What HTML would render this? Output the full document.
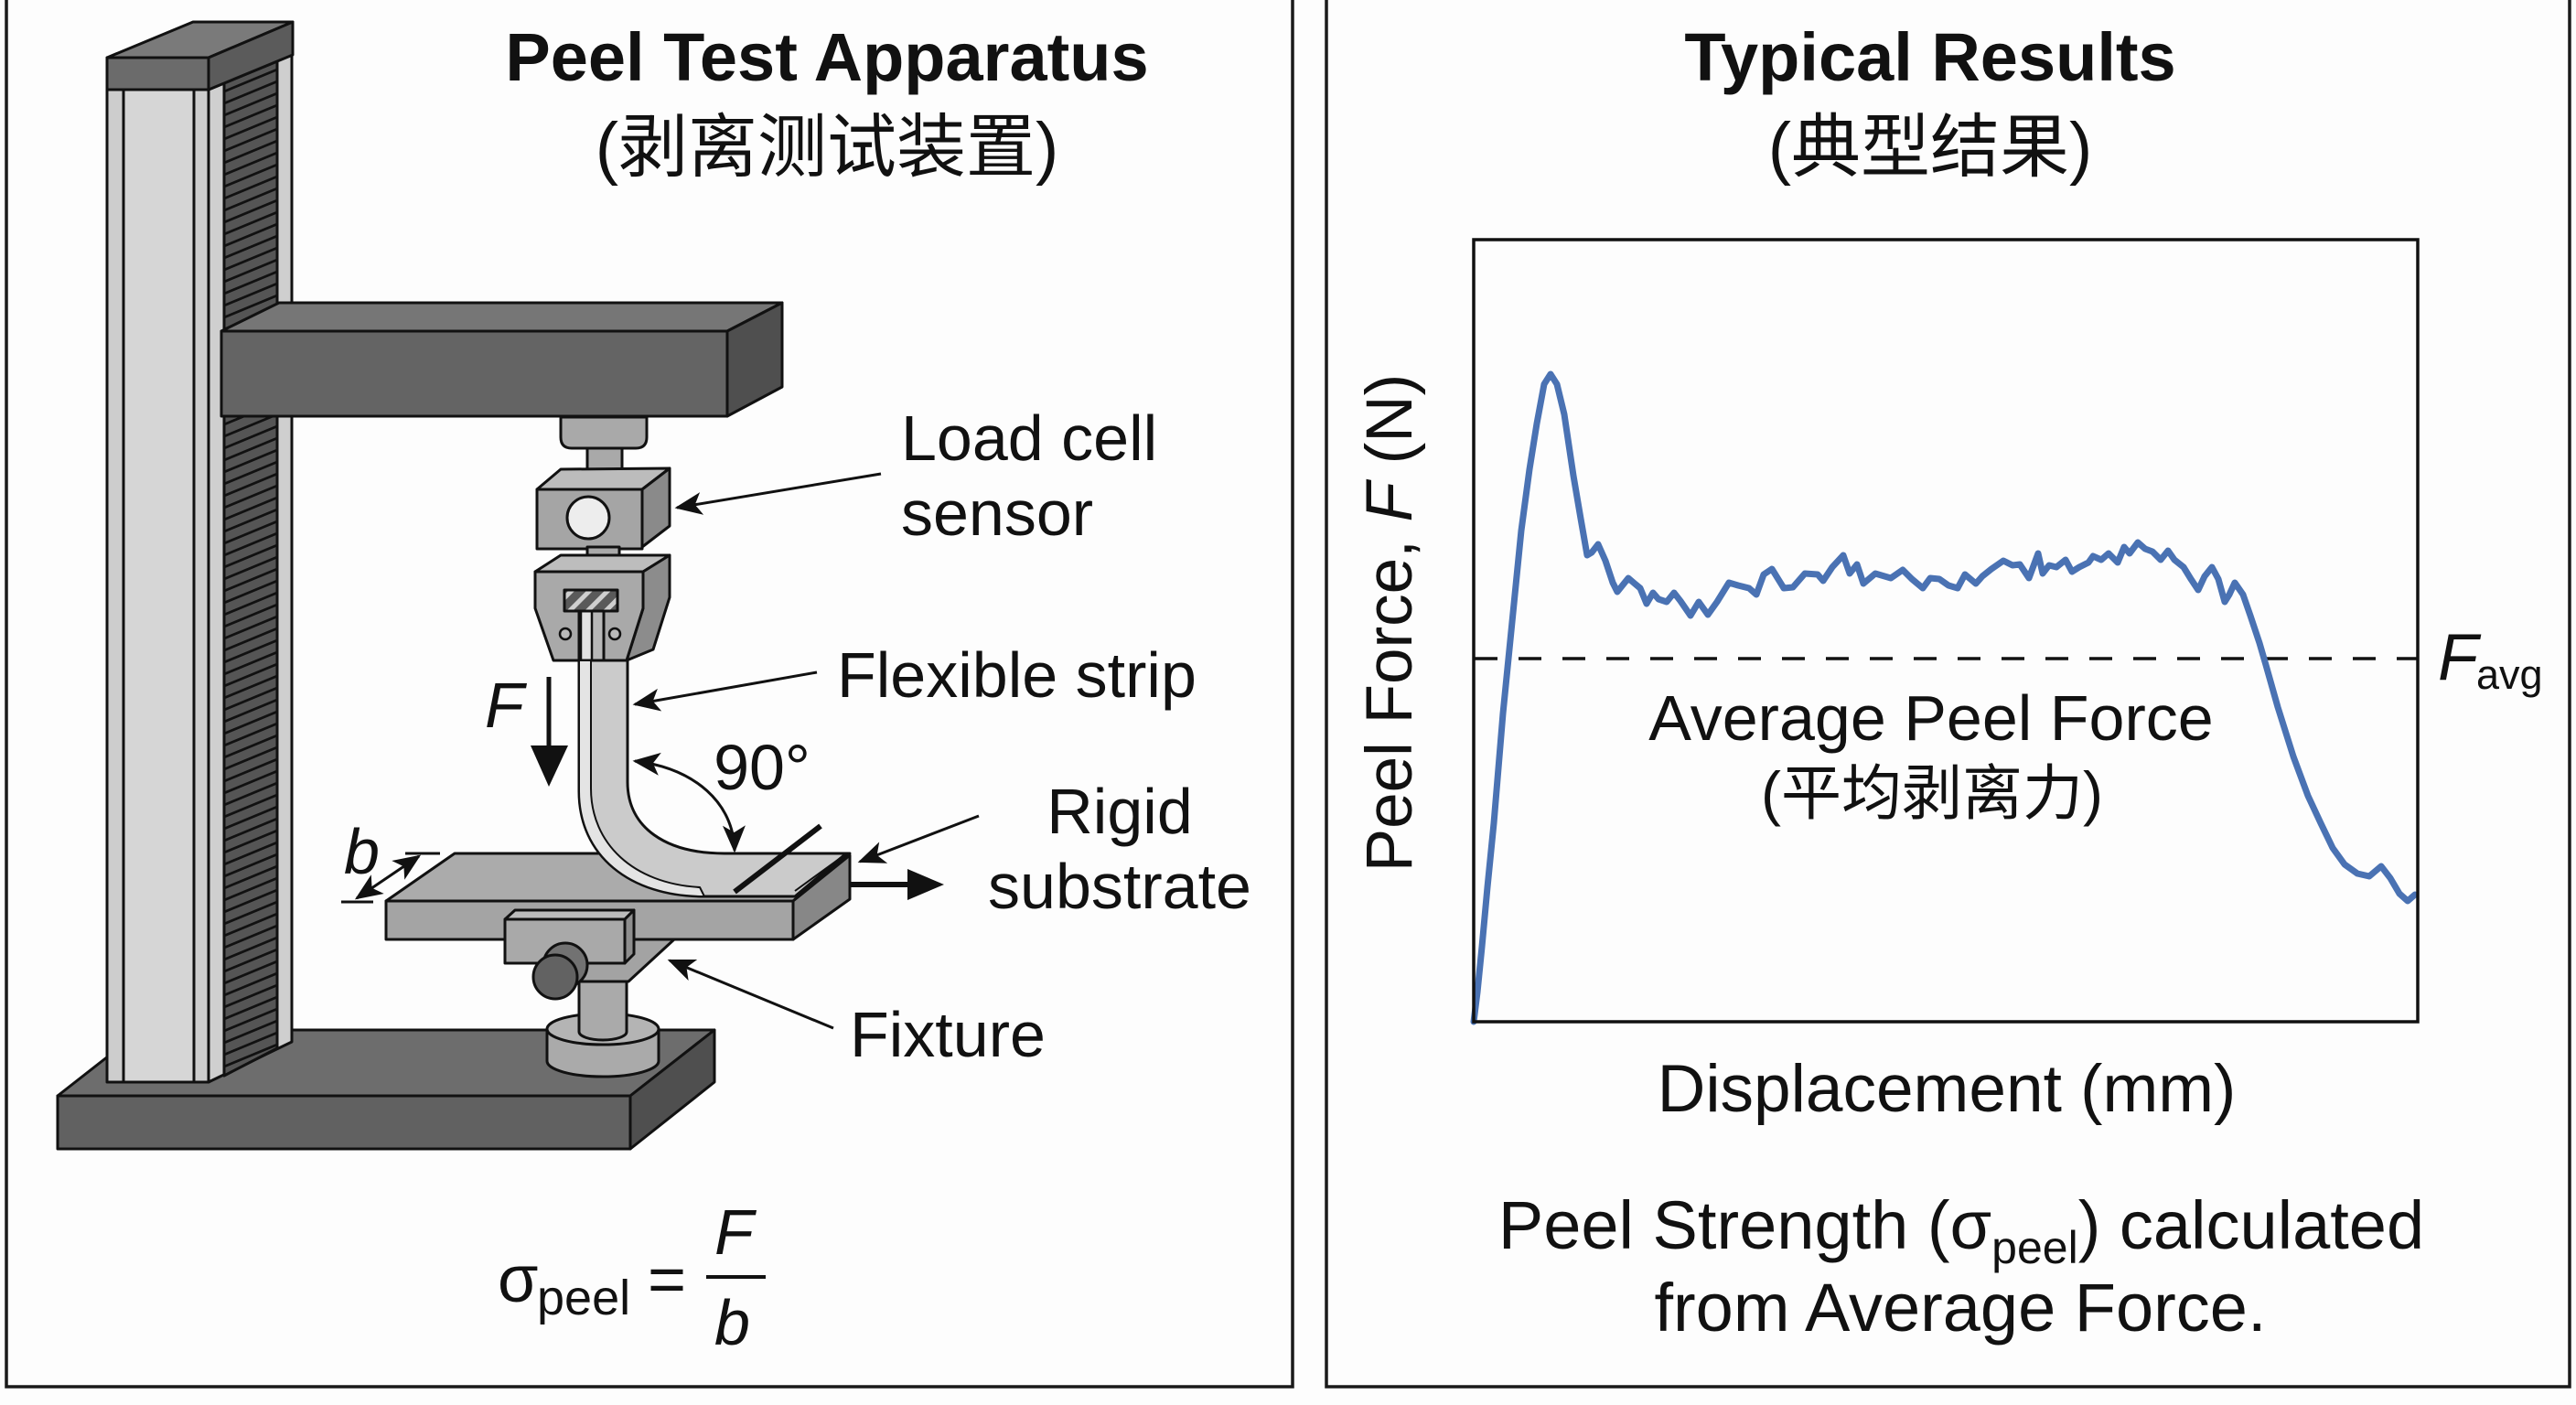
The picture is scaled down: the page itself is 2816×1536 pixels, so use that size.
<!DOCTYPE html>
<html>
<head>
<meta charset="utf-8">
<style>
  html,body{margin:0;padding:0;background:#fdfdfd;}
  svg{display:block;}
  text{font-family:"Liberation Sans","Noto Sans CJK SC",sans-serif;fill:#111;}
</style>
</head>
<body>
<svg width="2816" height="1536" viewBox="0 0 2816 1536" xmlns="http://www.w3.org/2000/svg">
  <defs>
    <marker id="ah" viewBox="0 0 12 10" refX="11" refY="5" markerWidth="10" markerHeight="8.5" orient="auto-start-reverse" markerUnits="strokeWidth">
      <path d="M0,0 L12,5 L0,10 L3,5 Z" fill="#111"/>
    </marker>
    <marker id="ahs" viewBox="0 0 12 10" refX="11" refY="5" markerWidth="6" markerHeight="5" orient="auto-start-reverse" markerUnits="strokeWidth">
      <path d="M0,0 L12,5 L0,10 L3,5 Z" fill="#111"/>
    </marker>
    <pattern id="hatch" patternUnits="userSpaceOnUse" x="245" y="0" width="58" height="13" patternTransform="skewY(-22.5)">
      <rect width="58" height="13" fill="#555"/>
      <line x1="0" y1="6.5" x2="58" y2="6.5" stroke="#111" stroke-width="3"/>
    </pattern>
    <pattern id="hatch2" patternUnits="userSpaceOnUse" width="14" height="14" patternTransform="rotate(45)">
      <rect width="14" height="14" fill="#5a5a5a"/>
      <rect width="5" height="14" fill="#cfcfcf"/>
    </pattern>
  </defs>

  <rect width="2816" height="1536" fill="#fdfdfd"/>

  <!-- Panel borders -->
  <path d="M7,-5 L7,1516 L1413,1516 L1413,-5" fill="none" stroke="#1a1a1a" stroke-width="3.5"/>
  <path d="M1450,-5 L1450,1516 L2809,1516 L2809,-5" fill="none" stroke="#1a1a1a" stroke-width="3.5"/>

  <!-- ================= LEFT PANEL ================= -->
  <text x="904" y="88" font-size="74" font-weight="bold" text-anchor="middle">Peel Test Apparatus</text>
  <text x="904" y="187" font-size="76" text-anchor="middle">(剥离测试装置)</text>

  <g stroke="#111" stroke-width="3" stroke-linejoin="round">
    <!-- Base -->
    <polygon points="63,1198 689,1198 781,1126 155,1126" fill="#6d6d6d"/>
    <rect x="63" y="1198" width="626" height="58" fill="#616161"/>
    <polygon points="689,1198 781,1126 781,1183 689,1256" fill="#4f4f4f"/>

    <!-- Column right side -->
    <polygon points="228,98 319,60 319,1139 228,1183" fill="#cfcfcf"/>
    <polygon points="245,91 303,67 303,1146 245,1176" fill="url(#hatch)"/>
    <!-- Column front -->
    <rect x="117" y="98" width="111" height="1085" fill="#cdcdcd"/>
    <rect x="135" y="98" width="77" height="1085" fill="#d6d6d6"/>
    <!-- Cap -->
    <polygon points="117,63 211,24 320,24 228,63" fill="#7a7a7a"/>
    <rect x="117" y="63" width="111" height="35" fill="#6b6b6b"/>
    <polygon points="228,63 320,24 320,60 228,98" fill="#5b5b5b"/>

    <!-- Beam -->
    <polygon points="242,362 305,331 855,331 795,362" fill="#767676"/>
    <rect x="242" y="362" width="553" height="93" fill="#646464"/>
    <polygon points="795,362 855,331 855,423 795,455" fill="#4f4f4f"/>

    <!-- Connector under beam -->
    <path d="M613,456 L707,456 L707,478 Q707,490 695,490 L625,490 Q613,490 613,478 Z" fill="#a9a9a9"/>
    <path d="M642,490 L680,490 L680,516 Q680,523 673,523 L649,523 Q642,523 642,516 Z" fill="#a9a9a9"/>

    <!-- Load cell -->
    <polygon points="587,535 613,513 732,512 702,535" fill="#bcbcbc"/>
    <rect x="587" y="535" width="115" height="65" fill="#a5a5a5"/>
    <polygon points="702,535 732,512 732,575 702,598" fill="#8a8a8a"/>
    <circle cx="643" cy="566" r="23" fill="#ededed"/>
    <path d="M642,598 L677,598 L677,614 Q677,620 671,620 L648,620 Q642,620 642,614 Z" fill="#a9a9a9"/>

    <!-- Grip -->
    <polygon points="585,625 613,607 732,607 703,625" fill="#bdbdbd"/>
    <polygon points="703,625 732,607 732,653 714,710 685,722 703,665" fill="#8c8c8c"/>
    <path d="M585,625 L703,625 L703,665 L685,722 L660,722 L660,668 L633,668 L633,722 L605,722 L585,665 Z" fill="#a9a9a9"/>
    <rect x="633" y="668" width="27" height="54" fill="#b8b8b8"/>
    <rect x="635" y="668" width="12" height="54" fill="#e2e2e2" stroke-width="2.5"/>
    <rect x="617" y="645" width="58" height="23" fill="url(#hatch2)"/>
    <circle cx="618" cy="693" r="6" fill="#bbb" stroke-width="2.5"/>
    <circle cx="672" cy="693" r="6" fill="#bbb" stroke-width="2.5"/>

    <!-- Fixture puck & post -->
    <path d="M598,1125 L598,1160 A61,17 0 0 0 720,1160 L720,1125 Z" fill="#aaaaaa"/>
    <ellipse cx="659" cy="1125" rx="61" ry="17" fill="#b4b4b4"/>
    <path d="M633,1070 L685,1070 L685,1128 A26,9 0 0 1 633,1128 Z" fill="#aaaaaa"/>
    <polygon points="640,1053 683,1053 693,1027 737,1027 687,1073 633,1073" fill="#a3a3a3"/>

    <!-- Substrate -->
    <polygon points="422,985 497,933 929,933 867,985" fill="#ababab"/>
    <rect x="422" y="985" width="445" height="42" fill="#a4a4a4"/>
    <polygon points="867,985 929,935 929,983 867,1027" fill="#878787"/>

    <!-- Flexible strip -->
    <path d="M633,722 L686,722 L686,855 C686,905 728,933 792,933 L925,933 L869,980 L770,980 C688,980 633,935 633,865 Z" fill="#cbcbcb"/>
    <path d="M633,722 L646,722 L646,862 C646,922 692,966 765,970 L770,980 C688,980 633,935 633,865 Z" fill="#e4e4e4" stroke-width="2"/>
    <line x1="869" y1="974" x2="920" y2="937" stroke-width="2" fill="none"/>

    <!-- Fixture block & knob -->
    <polygon points="552,1005 563,995 693,995 683,1005" fill="#bcbcbc"/>
    <rect x="552" y="1005" width="131" height="48" fill="#a9a9a9"/>
    <polygon points="683,1005 693,995 693,1043 683,1053" fill="#8e8e8e"/>
    <circle cx="618" cy="1055" r="24" fill="#727272"/>
    <circle cx="607" cy="1068" r="24" fill="#626262"/>
  </g>

  <!-- peel front marker -->
  <line x1="803" y1="975" x2="897" y2="903" stroke="#111" stroke-width="6"/>
  <!-- pull arrow to right -->
  <line x1="929" y1="967" x2="998" y2="967" stroke="#111" stroke-width="6"/>
  <polygon points="992,950 1032,967 992,984" fill="#111"/>
  <!-- F arrow -->
  <line x1="600" y1="740" x2="600" y2="822" stroke="#111" stroke-width="5"/>
  <polygon points="580,815 621,815 600,860" fill="#111"/>
  <text x="530" y="795" font-size="70" font-style="italic">F</text>

  <!-- b dimension -->
  <line x1="443" y1="933" x2="481" y2="933" stroke="#111" stroke-width="3"/>
  <line x1="373" y1="986" x2="408" y2="986" stroke="#111" stroke-width="3"/>
  <line x1="390" y1="982" x2="458" y2="936" stroke="#111" stroke-width="3" marker-start="url(#ah)" marker-end="url(#ah)"/>
  <text x="376" y="955" font-size="70" font-style="italic">b</text>

  <!-- leader arrows -->
  <g stroke="#111" stroke-width="3" fill="none">
    <line x1="963" y1="518" x2="740" y2="555" marker-end="url(#ah)"/>
    <line x1="893" y1="735" x2="694" y2="770" marker-end="url(#ah)"/>
    <line x1="1070" y1="892" x2="940" y2="942" marker-end="url(#ah)"/>
    <line x1="911" y1="1124" x2="732" y2="1050" marker-end="url(#ah)"/>
    <path d="M694,832 C760,840 802,878 803,930" marker-start="url(#ah)" marker-end="url(#ah)"/>
  </g>

  <!-- labels -->
  <text x="985" y="503" font-size="70">Load cell</text>
  <text x="985" y="585" font-size="70">sensor</text>
  <text x="915" y="762" font-size="70">Flexible strip</text>
  <text x="833" y="863" font-size="70" text-anchor="middle">90°</text>
  <text x="1224" y="911" font-size="70" text-anchor="middle">Rigid</text>
  <text x="1224" y="993" font-size="70" text-anchor="middle">substrate</text>
  <text x="929" y="1155" font-size="70">Fixture</text>

  <!-- formula -->
  <text x="544" y="1423" font-size="72">σ</text>
  <text x="587" y="1437" font-size="54">peel</text>
  <text x="708" y="1423" font-size="72">=</text>
  <text x="781" y="1371" font-size="70" font-style="italic">F</text>
  <line x1="772" y1="1396" x2="837" y2="1396" stroke="#111" stroke-width="4"/>
  <text x="781" y="1470" font-size="70" font-style="italic">b</text>

  <!-- ================= RIGHT PANEL ================= -->
  <text x="2110" y="88" font-size="74" font-weight="bold" text-anchor="middle">Typical Results</text>
  <text x="2110" y="187" font-size="76" text-anchor="middle">(典型结果)</text>

  <!-- dashed average line -->
  <line x1="1612" y1="720" x2="2643" y2="720" stroke="#111" stroke-width="3.5" stroke-dasharray="25 23"/>

  <!-- curve -->
  <polyline fill="none" stroke="#4a72b3" stroke-width="7" stroke-linejoin="round" stroke-linecap="round"
    points="1611,1117 1615,1085 1620,1035 1626,970 1633,900 1643,780 1653,680 1663,580 1672,513 1680,463 1688,420 1695,409 1702,420 1710,453 1720,520 1728,567 1735,607 1740,604 1747,595 1755,613 1763,637 1768,647 1780,632 1787,638 1793,643 1800,660 1807,648 1813,655 1822,658 1830,648 1837,657 1848,673 1857,658 1867,672 1877,658 1890,637 1900,640 1912,643 1920,650 1928,628 1937,622 1950,643 1960,642 1973,627 1987,628 1993,635 2003,620 2015,607 2022,627 2030,617 2037,638 2050,627 2067,632 2080,623 2090,633 2102,643 2110,632 2120,633 2130,640 2140,643 2148,628 2160,638 2167,630 2177,622 2190,613 2200,618 2208,617 2218,632 2228,605 2233,627 2240,618 2248,620 2258,612 2265,625 2273,620 2283,615 2288,608 2297,612 2305,605 2315,615 2322,598 2328,605 2337,593 2345,600 2353,603 2362,612 2370,602 2377,612 2387,620 2395,633 2403,645 2410,630 2418,620 2425,633 2432,658 2437,650 2443,637 2452,650 2460,673 2470,703 2477,727 2490,773 2507,827 2523,870 2537,900 2550,927 2563,945 2577,955 2590,958 2603,947 2613,960 2623,977 2632,985 2640,978"/>

  <!-- plot box -->
  <rect x="1611" y="262" width="1032" height="855" fill="none" stroke="#111" stroke-width="3.5"/>

  <!-- F_avg -->
  <text x="2665" y="743" font-size="72" font-style="italic">F</text>
  <text x="2707" y="753" font-size="45">avg</text>

  <!-- in-plot labels -->
  <text x="2111" y="809" font-size="70" text-anchor="middle">Average Peel Force</text>
  <text x="2112" y="890" font-size="66" text-anchor="middle">(平均剥离力)</text>

  <!-- axis labels -->
  <text transform="translate(1543,681) rotate(-90)" font-size="71" text-anchor="middle">Peel Force, <tspan font-style="italic">F</tspan> (N)</text>
  <text x="2128" y="1215" font-size="73" text-anchor="middle">Displacement (mm)</text>

  <!-- bottom caption -->
  <text x="2144" y="1365" font-size="74" text-anchor="middle">Peel Strength (σ<tspan font-size="50" dy="16">peel</tspan><tspan dy="-16">) calculated</tspan></text>
  <text x="2143" y="1455" font-size="74" text-anchor="middle">from Average Force.</text>
</svg>
</body>
</html>
